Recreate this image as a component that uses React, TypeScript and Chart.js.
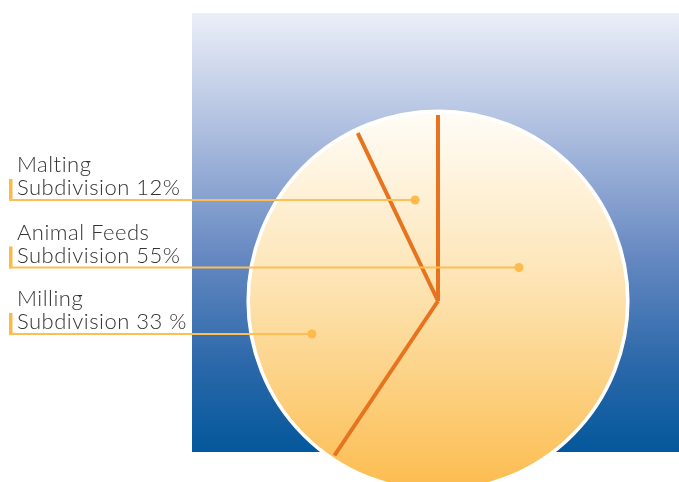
import React, { useEffect, useRef } from 'react';
import { Chart, registerables } from 'chart.js';

Chart.register(...registerables);

// Slices in drawing order (clockwise from 12 o'clock), shares as drawn in the picture
const categories = ['Animal Feeds', 'Milling', 'Malting'];
const sliceShares = [59.4, 33.5, 7.1];

// Label texts (top to bottom)
const labelTitles = ['Malting', 'Animal Feeds', 'Milling'];
const labelSubtitles = ['Subdivision 12%', 'Subdivision 55%', 'Subdivision 33 %'];

const W = 679;
const H = 482;
const CANVAS_H = 502;

// layout of annotation rows (leader-line y, dot offset as fraction of radius)
const ROW_Y = [200, 267.5, 334];
const DOT_DX = [-0.12, 0.424, -0.66];

const decorPlugin = {
  id: 'decor',
  beforeDraw(chart: any) {
    const ctx = chart.ctx as CanvasRenderingContext2D;
    ctx.save();
    ctx.fillStyle = '#ffffff';
    ctx.fillRect(0, 0, chart.width, chart.height);
    const top = 13;
    const bottom = 452;
    const g = ctx.createLinearGradient(0, top, 0, bottom);
    g.addColorStop(0, '#ebeff8');
    g.addColorStop(0.27, '#adbedf');
    g.addColorStop(0.55, '#6789c2');
    g.addColorStop(0.8, '#2b68aa');
    g.addColorStop(1, '#03589b');
    ctx.fillStyle = g;
    ctx.fillRect(192, top, W - 192, bottom - top);
    ctx.restore();
  },
  afterDatasetsDraw(chart: any) {
    const ctx = chart.ctx as CanvasRenderingContext2D;
    const meta = chart.getDatasetMeta(0);
    const first = meta.data[0];
    const { x, y, outerRadius } = first.getProps(['x', 'y', 'outerRadius'], true);
    ctx.save();
    // white rim
    ctx.beginPath();
    ctx.arc(x, y, outerRadius - 1.2, 0, Math.PI * 2);
    ctx.lineWidth = 3.6;
    ctx.strokeStyle = '#ffffff';
    ctx.stroke();
    // orange separators at each slice start
    ctx.strokeStyle = '#e8731f';
    ctx.lineWidth = 4;
    ctx.lineCap = 'butt';
    ctx.lineJoin = 'miter';
    meta.data.forEach((arc: any) => {
      const { startAngle } = arc.getProps(['startAngle'], true);
      const len = outerRadius - 5;
      ctx.beginPath();
      ctx.moveTo(x + Math.cos(startAngle) * len, y + Math.sin(startAngle) * len);
      ctx.lineTo(x, y);
      ctx.stroke();
    });
    // labels with leader lines
    ctx.textAlign = 'left';
    ctx.textBaseline = 'alphabetic';
    labelTitles.forEach((title, i) => {
      const ly = ROW_Y[i];
      const dotX = x + DOT_DX[i] * outerRadius;
      ctx.fillStyle = '#333333';
      ctx.font = '300 22px Lato, "Open Sans", sans-serif';
      (ctx as any).letterSpacing = '0.5px';
      ctx.fillText(title, 17, ly - 28);
      ctx.fillText(labelSubtitles[i], 17, ly - 5);
      (ctx as any).letterSpacing = '0px';
      // left bar
      ctx.fillStyle = '#fbb948';
      ctx.fillRect(9, ly - 21, 3.5, 22);
      // leader line
      ctx.strokeStyle = '#fdbe55';
      ctx.lineWidth = 2;
      ctx.beginPath();
      ctx.moveTo(9, ly);
      ctx.lineTo(dotX, ly);
      ctx.stroke();
      // dot
      ctx.fillStyle = '#fdbb4b';
      ctx.beginPath();
      ctx.arc(dotX, ly, 4.5, 0, Math.PI * 2);
      ctx.fill();
    });
    ctx.restore();
  },
};

export default function App() {
  const ref = useRef<HTMLCanvasElement | null>(null);
  useEffect(() => {
    if (!ref.current) return;
    const chart = new Chart(ref.current, {
      type: 'pie',
      data: {
        labels: categories,
        datasets: [
          {
            data: sliceShares,
            borderWidth: 0,
            backgroundColor: (c: any) => {
              const ca = c.chart.chartArea;
              if (!ca) return '#fde0a8';
              const g = c.chart.ctx.createLinearGradient(0, ca.top, 0, ca.bottom);
              g.addColorStop(0, '#fffdf8');
              g.addColorStop(0.45, '#fde4b4');
              g.addColorStop(1, '#fcbc4e');
              return g;
            },
          },
        ],
      },
      options: {
        responsive: false,
        animation: false,
        events: [],
        layout: { padding: { left: 247, right: 50, top: 110, bottom: 10 } },
        plugins: {
          legend: { display: false },
          tooltip: { enabled: false },
        },
      },
      plugins: [decorPlugin],
    });
    return () => chart.destroy();
  }, []);
  return (
    <div style={{ position: 'absolute', left: 0, top: 0, width: W, height: H, overflow: 'hidden', background: '#fff' }}>
      <canvas ref={ref} width={W} height={CANVAS_H} style={{ display: 'block', width: W, height: CANVAS_H }} />
    </div>
  );
}
